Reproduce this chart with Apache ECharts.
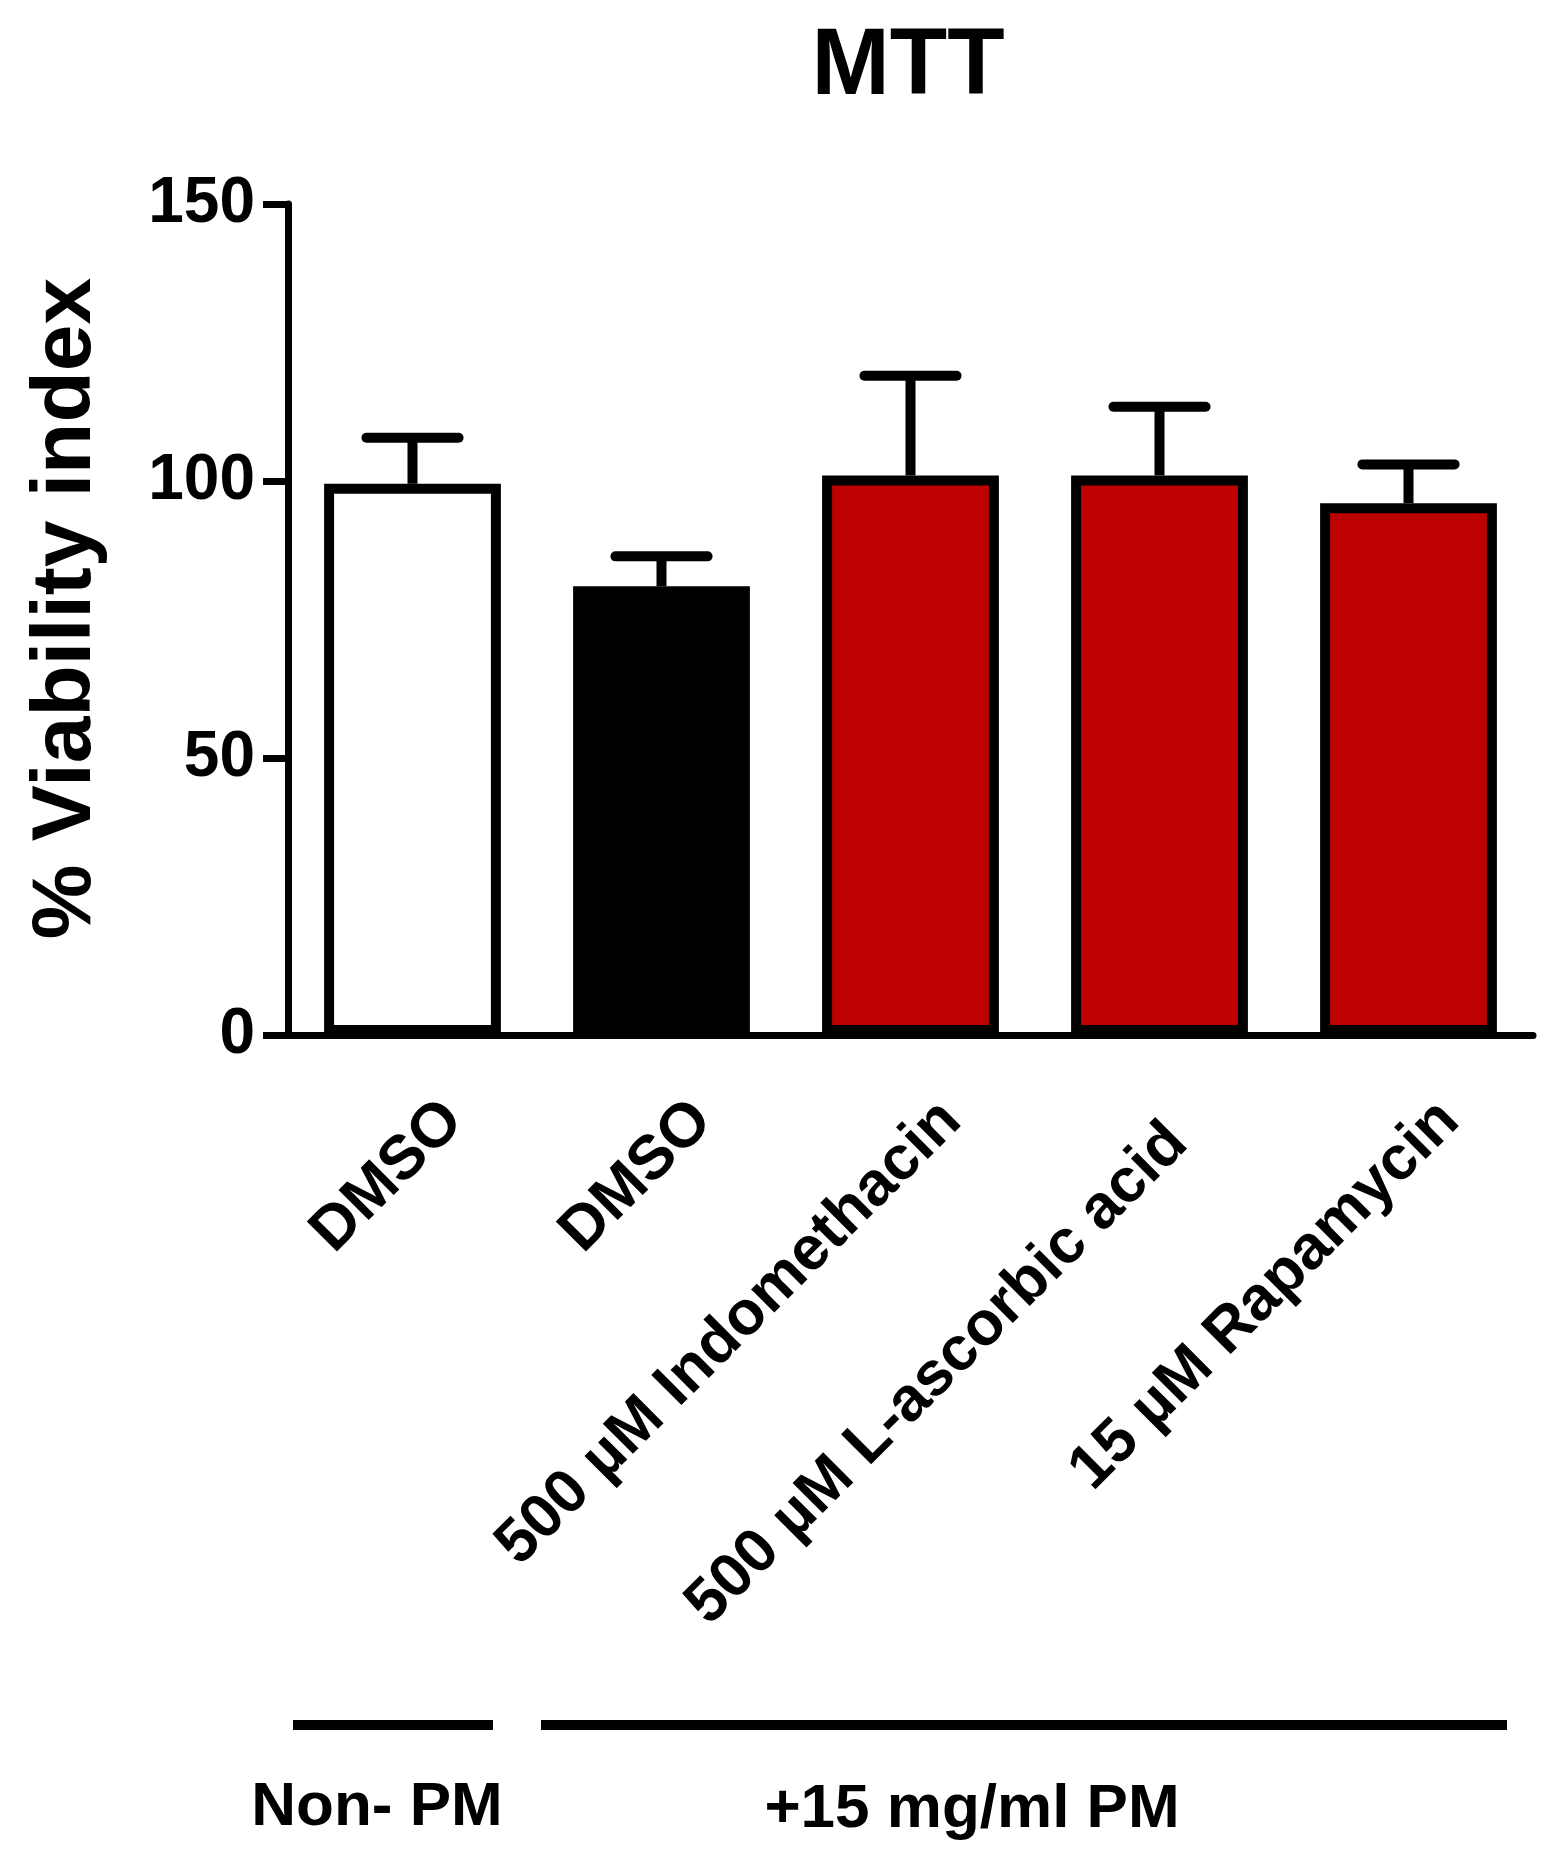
<!DOCTYPE html>
<html><head><meta charset="utf-8">
<script src="https://cdn.jsdelivr.net/npm/echarts@6/dist/echarts.min.js"></script>
<style>html,body{margin:0;padding:0;background:#fff}#c{width:1554px;height:1863px}</style>
</head><body><div id="c"></div>
<script>
// ---- data ----
const categories = ['DMSO', 'DMSO', '500 µM Indomethacin', '500 µM L-ascorbic acid', '15 µM Rapamycin'];
const means = [99.5, 81, 101, 101, 96];
const upperErr = [107.8, 86.4, 119, 113.4, 103];
const barColors = ['#ffffff', '#000000', '#bd0000', '#bd0000', '#bd0000'];
const yTicks = [0, 50, 100, 150];
const groupLabels = ['Non- PM', '+15 mg/ml PM'];
const chartTitle = 'MTT';
const yTitle = '% Viability index';

const FONT = '"Liberation Sans", Arial, sans-serif';
const chart = echarts.init(document.getElementById('c'), null, {renderer: 'canvas'});

const labelStyle = {fontSize: 62, fontWeight: 'bold', fontFamily: FONT, color: '#000', lineHeight: 116};

const option = {
  backgroundColor: '#fff',
  animation: false,
  title: {
    text: chartTitle, left: 903, top: 16, textAlign: 'center',
    textStyle: {fontSize: 94, fontWeight: 'bold', fontFamily: FONT, color: '#000'}
  },
  grid: {left: 288, right: 21, top: 204, bottom: 828, containLabel: false},
  xAxis: {
    type: 'category', data: categories, boundaryGap: true,
    axisLine: {lineStyle: {color: '#000', width: 7}},
    axisTick: {alignWithLabel: true, length: 25, lineStyle: {color: '#000', width: 7}},
    axisLabel: {
      interval: 0, rotate: 45, align: 'right', verticalAlign: 'top', margin: 35,
      formatter: (v, i) => (i === 3 ? '{s|' + v + '}' : '{n|' + v + '}'),
      rich: {
        n: labelStyle,
        s: Object.assign({}, labelStyle, {padding: [0, 32, 0, 0]})
      }
    }
  },
  yAxis: {
    type: 'value', min: yTicks[0], max: yTicks[yTicks.length - 1], interval: yTicks[1] - yTicks[0],
    splitLine: {show: false},
    axisLine: {show: true, lineStyle: {color: '#000', width: 7}},
    axisTick: {show: true, length: 25, lineStyle: {color: '#000', width: 7}},
    axisLabel: {margin: 33, fontSize: 64, fontWeight: 'bold', fontFamily: FONT, color: '#000'},
    name: yTitle, nameLocation: 'middle', nameGap: 179,
    nameTextStyle: {fontSize: 84, fontWeight: 'bold', fontFamily: FONT, color: '#000', lineHeight: 84, padding: [0, 0, 0, 22]}
  },
  series: [
    {
      type: 'bar', barWidth: '71%',
      data: means.map((v, i) => ({value: v, itemStyle: {color: barColors[i], borderColor: '#000', borderWidth: 10}})),
      z: 2
    },
    {
      type: 'custom', z: 3,
      data: means.map((v, i) => [i, v, upperErr[i]]),
      encode: {x: 0, y: 2},
      renderItem: function (params, api) {
        const i = api.value(0);
        const base = api.coord([i, api.value(1)]);
        const top = api.coord([i, api.value(2)]);
        const half = api.size([1, 0])[0] * 0.185;
        return {
          type: 'group', children: [
            {type: 'line', shape: {x1: base[0], y1: base[1], x2: top[0], y2: top[1]}, style: {stroke: '#000', lineWidth: 10}},
            {type: 'line', shape: {x1: top[0] - half, y1: top[1], x2: top[0] + half, y2: top[1]}, style: {stroke: '#000', lineWidth: 10, lineCap: 'round'}}
          ]
        };
      }
    }
  ],
  graphic: [
    {type: 'line', shape: {x1: 293, y1: 1725, x2: 493, y2: 1725}, style: {stroke: '#000', lineWidth: 10}},
    {type: 'line', shape: {x1: 541, y1: 1725, x2: 1507, y2: 1725}, style: {stroke: '#000', lineWidth: 10}},
    {type: 'text', x: 377, y: 1808, style: {text: groupLabels[0], fontSize: 62, fontWeight: 'bold', fontFamily: FONT, fill: '#000', align: 'center', verticalAlign: 'middle'}},
    {type: 'text', x: 972, y: 1810, style: {text: groupLabels[1], fontSize: 62, fontWeight: 'bold', fontFamily: FONT, fill: '#000', align: 'center', verticalAlign: 'middle'}}
  ]
};
chart.setOption(option);
</script>
</body></html>
